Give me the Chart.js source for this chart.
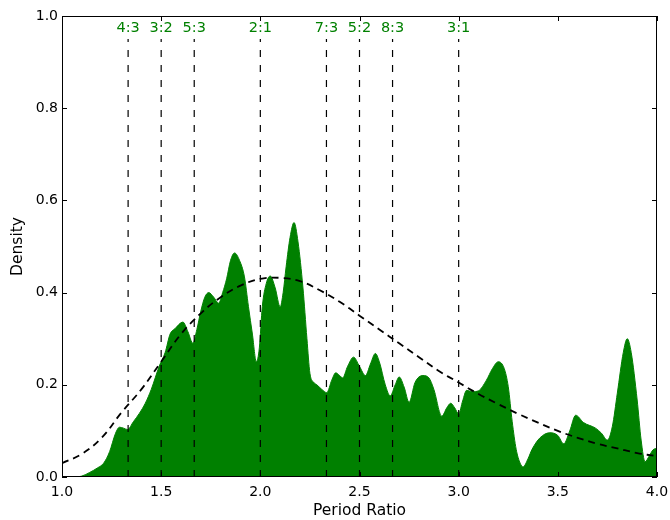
<!DOCTYPE html>
<html>
<head>
<meta charset="utf-8">
<script src="https://cdn.jsdelivr.net/npm/chart.js@4.4.1/dist/chart.umd.min.js"></script>
<style>
  html, body { margin: 0; padding: 0; background: #fff; }
  #wrap { width: 670px; height: 520px; }
</style>
</head>
<body>
<div id="wrap"><canvas id="chart" width="670" height="520"></canvas></div>
<script>
// observed density (filled green)
const densityX = [1.00, 1.05, 1.10, 1.14, 1.18, 1.21, 1.24, 1.27, 1.29, 1.31, 1.33, 1.36, 1.39, 1.42, 1.45, 1.49,
    1.52, 1.545, 1.57, 1.61, 1.635, 1.66, 1.68, 1.70, 1.72, 1.74, 1.765, 1.79, 1.81, 1.83, 1.85, 1.87, 1.895,
    1.92, 1.94, 1.96, 1.98, 1.995, 2.01, 2.03, 2.05, 2.075, 2.10, 2.115, 2.13, 2.15, 2.17, 2.19, 2.215, 2.235,
    2.25, 2.27, 2.285, 2.31, 2.335, 2.36, 2.38, 2.40, 2.415, 2.44, 2.47, 2.50, 2.53, 2.555, 2.58, 2.60, 2.63,
    2.655, 2.68, 2.70, 2.725, 2.75, 2.78, 2.82, 2.85, 2.875, 2.915, 2.94, 2.96, 2.98, 3.00, 3.02, 3.04, 3.07,
    3.10, 3.14, 3.17, 3.20, 3.23, 3.25, 3.27, 3.29, 3.31, 3.325, 3.35, 3.37, 3.41, 3.46, 3.50, 3.53, 3.56,
    3.59, 3.63, 3.69, 3.72, 3.75, 3.775, 3.80, 3.83, 3.85, 3.87, 3.90, 3.92, 3.94, 3.96, 3.98, 4.00];
const densityY = [0, 0, 0.002, 0.01, 0.02, 0.03, 0.055, 0.095, 0.108, 0.106, 0.103, 0.12, 0.138, 0.16, 0.19, 0.24,
    0.27, 0.31, 0.322, 0.336, 0.315, 0.29, 0.32, 0.36, 0.39, 0.40, 0.39, 0.377, 0.40, 0.43, 0.47, 0.486, 0.47,
    0.434, 0.37, 0.31, 0.25, 0.28, 0.37, 0.42, 0.436, 0.41, 0.369, 0.40, 0.456, 0.52, 0.552, 0.51, 0.41, 0.30,
    0.225, 0.205, 0.20, 0.19, 0.183, 0.21, 0.226, 0.22, 0.215, 0.24, 0.26, 0.24, 0.22, 0.245, 0.268, 0.25, 0.20,
    0.176, 0.20, 0.217, 0.195, 0.162, 0.205, 0.22, 0.215, 0.19, 0.132, 0.15, 0.16, 0.15, 0.137, 0.165, 0.188, 0.185,
    0.187, 0.21, 0.235, 0.25, 0.235, 0.196, 0.12, 0.06, 0.03, 0.022, 0.04, 0.06, 0.085, 0.096, 0.09, 0.072, 0.10,
    0.134, 0.118, 0.106, 0.095, 0.08, 0.11, 0.182, 0.27, 0.30, 0.27, 0.167, 0.08, 0.033, 0.045, 0.059, 0.062];

// smooth model curve (dashed black)
const modelX = [1.0, 1.1, 1.2, 1.3, 1.4, 1.5, 1.6, 1.7, 1.8, 1.9, 2.0, 2.1, 2.2, 2.3, 2.4, 2.5,
    2.6, 2.7, 2.8, 2.9, 3.0, 3.1, 3.2, 3.3, 3.4, 3.5, 3.6, 3.7, 3.8, 3.9, 4.0];
const modelY = [0.03, 0.05, 0.085, 0.14, 0.19, 0.25, 0.31, 0.355, 0.39, 0.415, 0.43, 0.432, 0.425, 0.405, 0.38, 0.35,
    0.32, 0.29, 0.26, 0.23, 0.205, 0.18, 0.158, 0.137, 0.118, 0.10, 0.085, 0.072, 0.062, 0.052, 0.045];

// resonances
const resonanceLabels = ['4:3', '3:2', '5:3', '2:1', '7:3', '5:2', '8:3', '3:1'];
const resonanceValues = [4 / 3, 3 / 2, 5 / 3, 2, 7 / 3, 5 / 2, 8 / 3, 3];

const xTicks = [1.0, 1.5, 2.0, 2.5, 3.0, 3.5, 4.0];
const yTicks = [0.0, 0.2, 0.4, 0.6, 0.8, 1.0];

const FONT = 'DejaVu Sans';
const GREEN = '#008000';

const densityPoints = densityX.map((x, i) => ({ x: x, y: densityY[i] }));
const modelPoints = modelX.map((x, i) => ({ x: x, y: modelY[i] }));

const resonanceSets = resonanceValues.map(v => ({
    data: [{ x: v, y: 0 }, { x: v, y: 0.95 }],
    borderColor: '#000',
    borderWidth: 1.2,
    borderDash: [7, 8],
    pointRadius: 0,
    fill: false,
    order: 1
}));

// labels over resonance lines + frame + inward ticks
const decorPlugin = {
    id: 'decor',
    afterDatasetsDraw(chart) {
        const { ctx, scales: { x, y } } = chart;
        ctx.save();
        ctx.font = '14.5px ' + FONT;
        ctx.fillStyle = GREEN;
        ctx.textAlign = 'center';
        ctx.textBaseline = 'middle';
        resonanceValues.forEach((v, i) => {
            ctx.fillText(resonanceLabels[i], x.getPixelForValue(v), y.getPixelForValue(0.973));
        });
        ctx.restore();
    },
    afterDraw(chart) {
        const { ctx, chartArea: a, scales: { x, y } } = chart;
        ctx.save();
        ctx.strokeStyle = '#000';
        ctx.lineWidth = 1;
        ctx.strokeRect(a.left + 0.5, a.top + 0.5, a.right - a.left - 1, a.bottom - a.top - 1);
        const len = 5;
        ctx.beginPath();
        xTicks.forEach(t => {
            const px = Math.round(x.getPixelForValue(t)) + 0.5;
            ctx.moveTo(px, a.bottom); ctx.lineTo(px, a.bottom - len);
            ctx.moveTo(px, a.top); ctx.lineTo(px, a.top + len);
        });
        yTicks.forEach(t => {
            const py = Math.round(y.getPixelForValue(t)) + 0.5;
            ctx.moveTo(a.left, py); ctx.lineTo(a.left + len, py);
            ctx.moveTo(a.right, py); ctx.lineTo(a.right - len, py);
        });
        ctx.stroke();
        ctx.restore();
    }
};

new Chart(document.getElementById('chart'), {
    type: 'line',
    data: {
        datasets: [
            {
                data: densityPoints,
                borderColor: GREEN,
                backgroundColor: GREEN,
                borderWidth: 1,
                pointRadius: 0,
                fill: 'origin',
                cubicInterpolationMode: 'monotone',
                order: 3
            },
            {
                data: modelPoints,
                borderColor: '#000',
                borderWidth: 1.8,
                borderDash: [7, 5],
                pointRadius: 0,
                fill: false,
                tension: 0.4,
                order: 2
            },
            ...resonanceSets
        ]
    },
    options: {
        responsive: false,
        animation: false,
        layout: { padding: { left: 0, right: 13, top: 16, bottom: 0 } },
        plugins: {
            legend: { display: false },
            tooltip: { enabled: false }
        },
        scales: {
            x: {
                type: 'linear',
                min: 1.0,
                max: 4.0,
                afterBuildTicks: s => { s.ticks = xTicks.map(v => ({ value: v })); },
                afterFit: s => { s.height = 43; s.paddingLeft = 0; s.paddingRight = 0; },
                grid: { display: false, drawTicks: false },
                border: { display: false },
                ticks: {
                    padding: 7,
                    color: '#000',
                    font: { family: FONT, size: 14 },
                    maxRotation: 0,
                    callback: v => v.toFixed(1)
                },
                title: {
                    display: true,
                    text: 'Period Ratio',
                    color: '#000',
                    font: { family: FONT, size: 15.5 },
                    padding: { top: 0, bottom: 0 }
                }
            },
            y: {
                type: 'linear',
                min: 0,
                max: 1.0,
                afterBuildTicks: s => { s.ticks = yTicks.map(v => ({ value: v })); },
                afterFit: s => { s.width = 62; s.paddingTop = 0; s.paddingBottom = 0; },
                grid: { display: false, drawTicks: false },
                border: { display: false },
                ticks: {
                    padding: 4,
                    color: '#000',
                    font: { family: FONT, size: 14 },
                    callback: v => v.toFixed(1)
                },
                title: {
                    display: true,
                    text: 'Density',
                    color: '#000',
                    font: { family: FONT, size: 15.5 },
                    padding: { top: 9, bottom: 0 }
                }
            }
        }
    },
    plugins: [decorPlugin]
});
</script>
</body>
</html>
